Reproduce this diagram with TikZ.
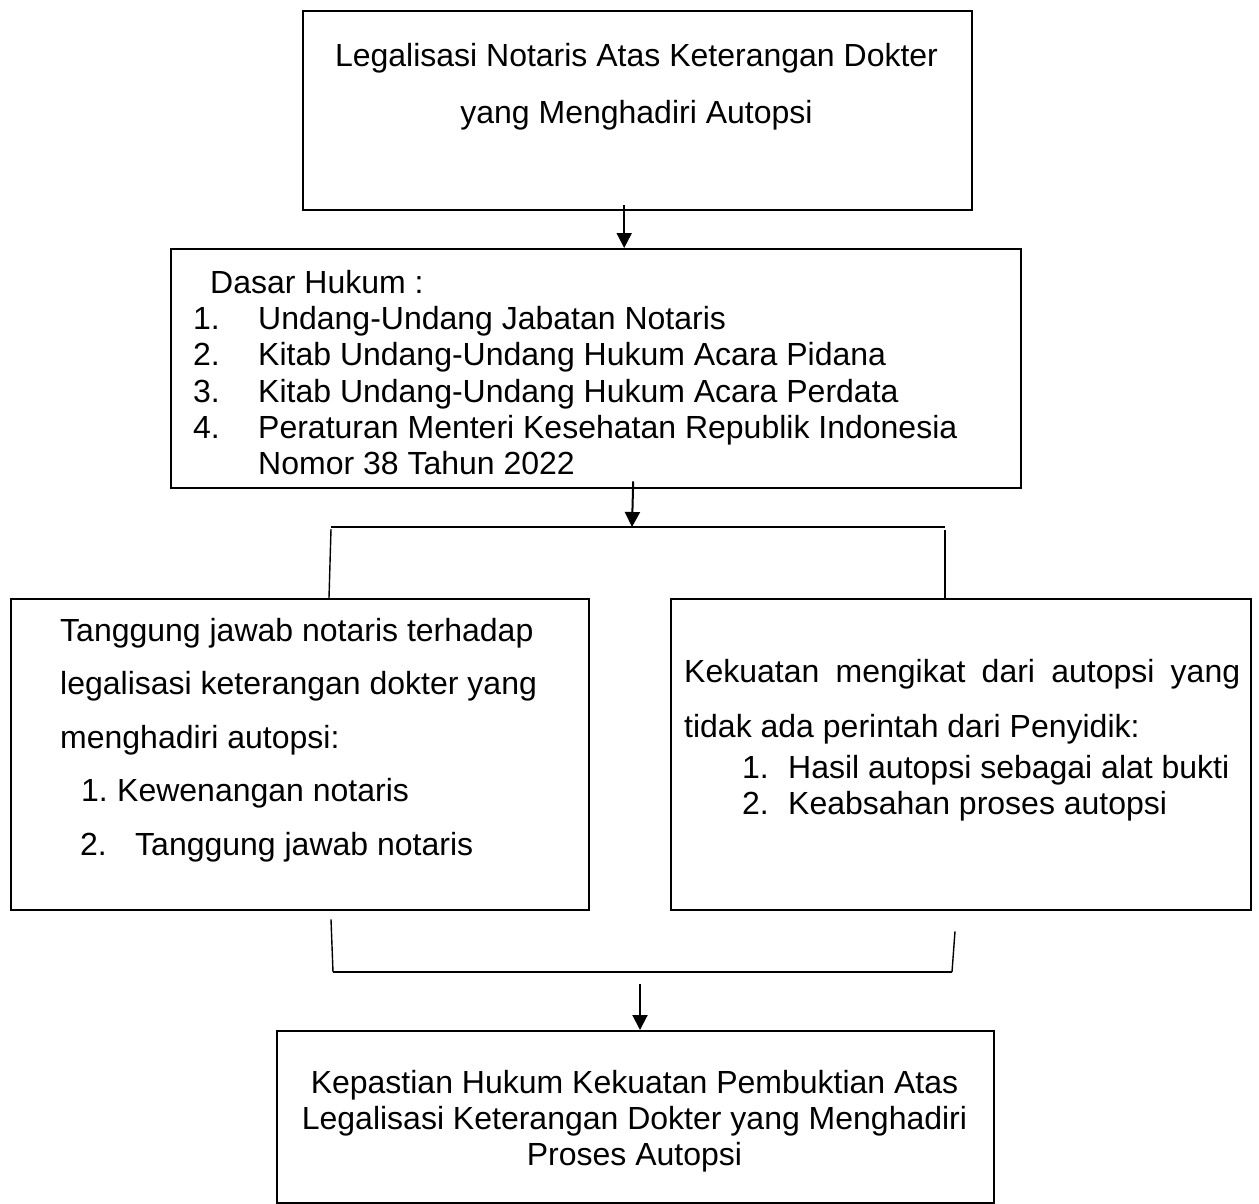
\documentclass[tikz,border=0pt]{standalone}
\usepackage{fontspec}
\setmainfont{Liberation Sans}
\usetikzlibrary{positioning,arrows.meta}

\begin{document}
\begin{tikzpicture}[%
    x=1pt, y=-1pt,                          % pixel grid, y runs down
    >={Triangle[length=15pt,width=15pt]},   % filled arrow heads
    every node/.style={inner sep=0pt},
    ]
\tikzset{
  box/.style={draw, rectangle, line width=2.4pt, anchor=north west},
  txt/.style={font=\fontsize{32}{36.2}\selectfont},
  wide/.style={font=\fontsize{32}{53.5}\selectfont},
  link/.style={line width=1.4pt},
  flow/.style={line width=2pt, ->},
}
\useasboundingbox (0,0) rectangle (1259,1203);

% boxes
\node [box, minimum width=669pt, minimum height=199pt] (legal) at (302,10) {};
\node [box, minimum width=850pt, minimum height=239pt] (dasar) at (170,248) {};
\node [box, minimum width=578pt, minimum height=311pt] (tanggung) at (10,598) {};
\node [box, minimum width=580pt, minimum height=311pt] (kekuatan) at (670,598) {};
\node [box, minimum width=717pt, minimum height=172pt] (kepastian) at (276,1030) {};

% texts
\node [txt, align=center] (legal-t) at (636.5,86.5)
  {Legalisasi Notaris Atas Keterangan Dokter\\[21pt]yang Menghadiri Autopsi};
\node [txt, align=left, anchor=west] (dasar-t) at (193,372.5)
  {\hspace*{17pt}Dasar Hukum :\\
   \makebox[65pt][l]{1.}Undang-Undang Jabatan Notaris\\
   \makebox[65pt][l]{2.}Kitab Undang-Undang Hukum Acara Pidana\\
   \makebox[65pt][l]{3.}Kitab Undang-Undang Hukum Acara Perdata\\
   \makebox[65pt][l]{4.}Peraturan Menteri Kesehatan Republik Indonesia\\
   \hspace*{65pt}Nomor 38 Tahun 2022};
\node [wide, align=left, anchor=west] (tanggung-t) at (60,740)
  {Tanggung jawab notaris terhadap\\
   legalisasi keterangan dokter yang\\
   menghadiri autopsi:\\
   \hspace*{21pt}\makebox[36pt][l]{1.}Kewenangan notaris\\
   \hspace*{20pt}\makebox[55pt][l]{2.}Tanggung jawab notaris};
\node [txt, align=left, anchor=west] (kekuatan-t) at (684,740.5)
  {\makebox[556pt][s]{Kekuatan mengikat dari autopsi yang}\\[18pt]
   tidak ada perintah dari Penyidik:\\[5pt]
   \hspace*{58pt}\makebox[46pt][l]{1.}Hasil autopsi sebagai alat bukti\\
   \hspace*{58pt}\makebox[46pt][l]{2.}Keabsahan proses autopsi};
\node [txt, align=center] (kepastian-t) at (634.5,1121)
  {Kepastian Hukum Kekuatan Pembuktian Atas\\
   Legalisasi Keterangan Dokter yang Menghadiri\\
   Proses Autopsi};

% junctions
\coordinate (split) at (632,527);
\coordinate (splitL) at (331,527);
\coordinate (splitR) at (945,527);
\coordinate (joinL) at (333,972);
\coordinate (joinR) at (952,972);
\coordinate (merge) at (640,972);

% connect
\draw [flow] ([xshift=-13.5pt,yshift=6pt]legal.south) -- ([xshift=-13.5pt]legal.south |- dasar.north);
\draw [flow] ([xshift=37pt,yshift=8pt]dasar.south) -- (split);
\draw [link] (splitL) -- (splitR);
\draw [link] ([yshift=-2pt]splitL) -- ([xshift=-2pt]splitL |- tanggung.north);
\draw [link] ([yshift=-3pt]splitR) -- (splitR |- kekuatan.north);
\draw [link] ([xshift=-2pt,yshift=-8pt]joinL |- tanggung.south) -- (joinL);
\draw [link] ([xshift=3pt,yshift=-20pt]joinR |- kekuatan.south) -- (joinR);
\draw [link] (joinL) -- (joinR);
\draw [flow] ([yshift=-12pt]merge) -- (merge |- kepastian.north);

\end{tikzpicture}
\end{document}
